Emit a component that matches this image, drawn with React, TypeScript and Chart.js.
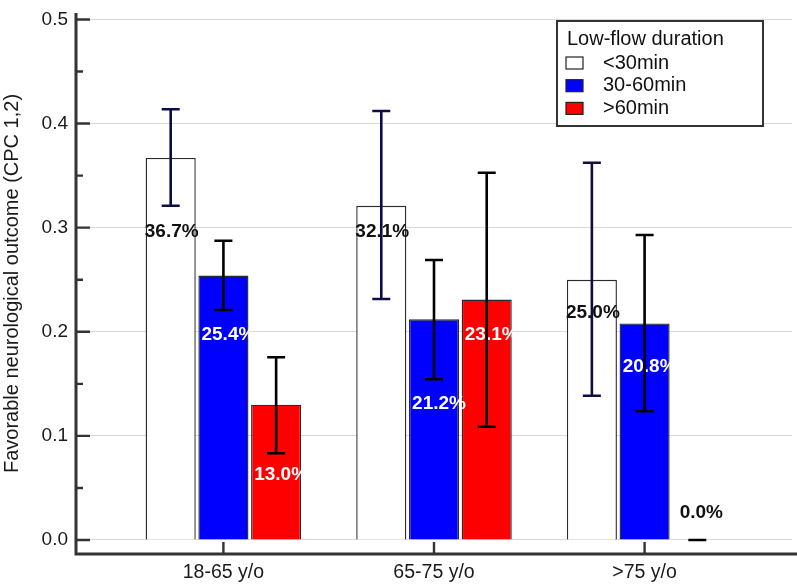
import React, { useEffect, useRef } from 'react';
import { Chart, registerables } from 'chart.js';

Chart.register(...registerables);

const categories = ['18-65 y/o', '65-75 y/o', '>75 y/o'];
const seriesNames = ['<30min', '30-60min', '>60min'];
const under30 = [0.367, 0.321, 0.25];
const from30to60 = [0.254, 0.212, 0.208];
const over60 = [0.13, 0.231, 0.0];
const under30Low = [0.321, 0.2315, 0.1386];
const under30High = [0.4137, 0.412, 0.3624];
const from30to60Low = [0.2209, 0.1544, 0.1236];
const from30to60High = [0.2875, 0.269, 0.293];
const over60Low = [0.0833, 0.1088, 0.0];
const over60High = [0.1755, 0.3528, 0.0];
const under30LabelAt = [0.296, 0.296, 0.2184];
const from30to60LabelAt = [0.197, 0.1306, 0.1665];
const over60LabelAt = [0.0624, 0.197, 0.026];
const yTicks = [0, 0.1, 0.2, 0.3, 0.4, 0.5];
const yMinorTicks = [0.05, 0.15, 0.25, 0.35, 0.45];
const yTitle = 'Favorable neurological outcome (CPC 1,2)';
const legendTitle = 'Low-flow duration';

const FONT = "'Liberation Sans', Arial, sans-serif";
const AXIS = '#333333';

const errLow = [under30Low, from30to60Low, over60Low];
const errHigh = [under30High, from30to60High, over60High];
const labelAt = [under30LabelAt, from30to60LabelAt, over60LabelAt];
const errColors = ['#0d0d45', '#000000', '#000000'];
const labelColors = ['#111111', '#ffffff', '#ffffff'];

const overlayPlugin = {
  id: 'overlay',
  afterDatasetsDraw(chart: any) {
    const { ctx, scales } = chart;
    const y = scales.y;
    // value labels
    chart.data.datasets.forEach((ds: any, di: number) => {
      const meta = chart.getDatasetMeta(di);
      meta.data.forEach((el: any, i: number) => {
        const v = ds.data[i].y;
        const txt = (v * 100).toFixed(1) + '%';
        const col = v === 0 ? '#111111' : labelColors[di];
        const dx = v === 0 ? 4 : col === '#ffffff' ? 5 : 1;
        ctx.save();
        ctx.font = `bold 19px ${FONT}`;
        ctx.fillStyle = col;
        ctx.textAlign = 'center';
        ctx.textBaseline = 'middle';
        ctx.fillText(txt, el.x + dx, y.getPixelForValue(labelAt[di][i]));
        ctx.restore();
      });
    });
    // error bars
    chart.data.datasets.forEach((ds: any, di: number) => {
      const meta = chart.getDatasetMeta(di);
      meta.data.forEach((el: any, i: number) => {
        const lo = y.getPixelForValue(errLow[di][i]);
        const hi = y.getPixelForValue(errHigh[di][i]);
        const cap = 9;
        ctx.save();
        ctx.strokeStyle = errColors[di];
        ctx.lineWidth = 2.6;
        ctx.beginPath();
        ctx.moveTo(el.x, lo);
        ctx.lineTo(el.x, hi);
        ctx.moveTo(el.x - cap, lo);
        ctx.lineTo(el.x + cap, lo);
        ctx.moveTo(el.x - cap, hi);
        ctx.lineTo(el.x + cap, hi);
        ctx.stroke();
        ctx.restore();
      });
    });
  },
  afterDraw(chart: any) {
    const { ctx, chartArea, scales, width } = chart;
    const { left, top, bottom } = chartArea;
    const x = scales.x;
    const y = scales.y;
    ctx.save();
    ctx.strokeStyle = AXIS;
    ctx.lineWidth = 3;
    ctx.beginPath();
    ctx.moveTo(left, top);
    ctx.lineTo(left, bottom + 1.5);
    ctx.moveTo(left - 1.5, bottom);
    ctx.lineTo(width, bottom);
    ctx.stroke();
    ctx.lineWidth = 2.4;
    ctx.beginPath();
    yTicks.forEach((t) => {
      const py = y.getPixelForValue(t);
      ctx.moveTo(left, py);
      ctx.lineTo(left + 14, py);
    });
    yMinorTicks.forEach((t) => {
      const py = y.getPixelForValue(t);
      ctx.moveTo(left, py);
      ctx.lineTo(left + 7, py);
    });
    categories.forEach((_, i) => {
      const px = x.getPixelForValue(i + 1);
      ctx.moveTo(px, bottom);
      ctx.lineTo(px, bottom - 12);
    });
    ctx.stroke();

    // legend
    const bx = 557;
    const by = 21;
    const bw = 206;
    const bh = 105;
    ctx.fillStyle = '#ffffff';
    ctx.fillRect(bx, by, bw, bh);
    ctx.lineWidth = 2;
    ctx.strokeStyle = AXIS;
    ctx.strokeRect(bx, by, bw, bh);
    ctx.fillStyle = '#111111';
    ctx.font = `20px ${FONT}`;
    ctx.textAlign = 'left';
    ctx.textBaseline = 'middle';
    ctx.fillText(legendTitle, bx + 10, by + 18);
    chart.data.datasets.forEach((ds: any, di: number) => {
      const cy = by + 42 + di * 22.7;
      ctx.fillStyle = ds.backgroundColor;
      ctx.fillRect(bx + 9, cy - 6, 17, 12);
      ctx.lineWidth = 1.2;
      ctx.strokeStyle = '#222222';
      ctx.strokeRect(bx + 9, cy - 6, 17, 12);
      ctx.fillStyle = '#111111';
      ctx.fillText(ds.label, bx + 46, cy);
    });
    ctx.restore();
  },
};

export default function App() {
  const ref = useRef<HTMLCanvasElement | null>(null);
  useEffect(() => {
    document.body.style.margin = '0';
    const canvas = ref.current;
    if (!canvas) return;
    const series = [under30, from30to60, over60];
    const fills = ['#ffffff', '#0000ff', '#ff0000'];
    const chart = new Chart(canvas, {
      type: 'bar',
      data: {
        datasets: series.map((vals, di) => ({
          label: seriesNames[di],
          data: vals.map((v, i) => ({ x: i + 1, y: v })),
          backgroundColor: fills[di],
          borderColor: '#2a2a2a',
          borderWidth: 1.4,
          categoryPercentage: 0.751,
          barPercentage: 0.95,
        })),
      },
      options: {
        responsive: false,
        animation: false,
        devicePixelRatio: 1,
        layout: { padding: { top: 13, right: 5, left: 0, bottom: 0 } },
        plugins: {
          legend: { display: false },
          tooltip: { enabled: false },
        },
        scales: {
          x: {
            type: 'linear',
            min: 0.3,
            max: 3.7,
            offset: false,
            grid: { display: false, offset: false, drawTicks: false },
            border: { display: false },
            afterBuildTicks: (s: any) => {
              s.ticks = categories.map((_, i) => ({ value: i + 1 }));
            },
            afterFit: (s: any) => {
              s.height = 34;
              s.paddingLeft = 0;
              s.paddingRight = 0;
              s.paddingTop = 0;
              s.paddingBottom = 0;
            },
            ticks: {
              autoSkip: false,
              maxRotation: 0,
              padding: 7,
              color: '#1a1a1a',
              font: { size: 19.5, family: FONT },
              callback: (v: any) => categories[Math.round(Number(v)) - 1] ?? '',
            },
          },
          y: {
            type: 'linear',
            min: -0.01345,
            max: 0.5062,
            grid: { color: '#d9d9d9', lineWidth: 1, drawTicks: false },
            border: { display: false },
            afterBuildTicks: (s: any) => {
              s.ticks = yTicks.map((v) => ({ value: v }));
            },
            afterFit: (s: any) => {
              s.width = 76;
              s.paddingTop = 0;
              s.paddingBottom = 0;
              s.paddingLeft = 0;
              s.paddingRight = 0;
            },
            ticks: {
              padding: 8,
              color: '#1a1a1a',
              font: { size: 19, family: FONT },
              callback: (v: any) => Number(v).toFixed(1),
            },
            title: {
              display: true,
              text: yTitle,
              color: '#1a1a1a',
              font: { size: 20, family: FONT },
              padding: { top: 0, bottom: 0 },
            },
          },
        },
      },
      plugins: [overlayPlugin],
    } as any);
    return () => chart.destroy();
  }, []);
  return <canvas ref={ref} width={797} height={588} style={{ display: 'block' }} />;
}
